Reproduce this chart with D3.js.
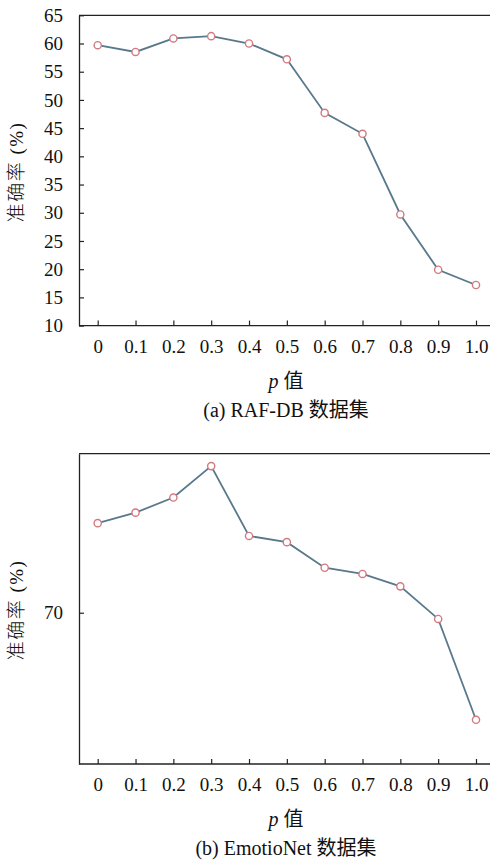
<!DOCTYPE html>
<html lang="zh">
<head>
<meta charset="UTF-8">
<title>p 值 准确率</title>
<script src="https://cdn.jsdelivr.net/npm/d3@7/dist/d3.min.js"></script>
<style>
  body { margin: 0; background: #fff; }
  text { font-family: "Liberation Serif", "Noto Sans CJK SC", serif; fill: #111; }
</style>
</head>
<body>
<div id="chart"></div>
<script>
// p values on the x axis
var pValues = [0, 0.1, 0.2, 0.3, 0.4, 0.5, 0.6, 0.7, 0.8, 0.9, 1.0];
var pLabels = ['0', '0.1', '0.2', '0.3', '0.4', '0.5', '0.6', '0.7', '0.8', '0.9', '1.0'];

// accuracy (%) on RAF-DB
var rafAcc = [59.7, 58.5, 60.9, 61.3, 60.0, 57.2, 47.7, 44.0, 29.7, 19.9, 17.2];
var rafTicks = [10, 15, 20, 25, 30, 35, 40, 45, 50, 55, 60, 65];

// accuracy (%) on EmotioNet
var emoAcc = [72.31, 72.58, 72.97, 73.78, 71.98, 71.82, 71.16, 71.0, 70.68, 69.84, 67.24];
var emoTicks = [70];

var width = 490, height = 866;
var svg = d3.select('#chart').append('svg')
    .attr('width', width)
    .attr('height', height);

function panel(opt) {
    var g = svg.append('g');
    var left = 79, right = 492;

    var x = d3.scaleLinear().domain([0, 1]).range([97.7, 476]);
    var y = d3.scaleLinear().domain(opt.domain).range([opt.bottom, opt.top]);

    // frame: top + left + bottom
    g.append('line').attr('x1', left).attr('x2', right)
        .attr('y1', opt.top).attr('y2', opt.top)
        .attr('stroke', '#222').attr('stroke-width', 1.3);

    var xAxis = d3.axisBottom(x).tickValues(pValues)
        .tickFormat(function(d, i) { return pLabels[i]; })
        .tickSizeInner(-5).tickSizeOuter(0).tickPadding(14);
    var xg = g.append('g').attr('transform', 'translate(0,' + opt.bottom + ')').call(xAxis);
    xg.select('.domain').attr('d', 'M' + left + ',0H' + right);

    var yAxis = d3.axisLeft(y).tickValues(opt.ticks)
        .tickSizeInner(-5).tickSizeOuter(0).tickPadding(16);
    var yg = g.append('g').attr('transform', 'translate(' + left + ',0)').call(yAxis);

    [xg, yg].forEach(function(a) {
        a.attr('font-size', null).attr('font-family', null);
        a.selectAll('.domain').attr('stroke', '#222').attr('stroke-width', 1.3);
        a.selectAll('.tick line').attr('stroke', '#222').attr('stroke-width', 1.2);
        a.selectAll('.tick text')
            .style('font-family', '"Liberation Serif", serif')
            .style('font-size', '19px').attr('fill', '#111');
    });

    var pts = pValues.map(function(p, i) { return [p, opt.values[i]]; });
    var line = d3.line().x(function(d) { return x(d[0]); }).y(function(d) { return y(d[1]); });

    g.append('path').datum(pts)
        .attr('d', line)
        .attr('fill', 'none')
        .attr('stroke', '#58788c')
        .attr('stroke-width', 1.8);

    g.selectAll('.dot').data(pts).enter().append('circle')
        .attr('class', 'dot')
        .attr('cx', function(d) { return x(d[0]); })
        .attr('cy', function(d) { return y(d[1]); })
        .attr('r', 3.6)
        .attr('fill', '#fff')
        .attr('stroke', '#d27a80')
        .attr('stroke-width', 1.4);

    // y label
    g.append('text')
        .attr('transform', 'translate(23,' + opt.ylabelY + ') rotate(-90)')
        .attr('text-anchor', 'middle')
        .style('font-size', '19px')
        .style('font-weight', '300')
        .style('letter-spacing', '1.5px')
        .text('准确率 (%)');

    // x label
    var xl = g.append('text')
        .attr('x', 286).attr('y', opt.bottom + 62)
        .attr('text-anchor', 'middle')
        .style('font-size', '20px');
    xl.append('tspan').style('font-style', 'italic').text('p');
    xl.append('tspan').text(' 值');

    g.append('text')
        .attr('x', 286).attr('y', opt.bottom + 91)
        .attr('text-anchor', 'middle')
        .style('font-size', '20px')
        .text(opt.caption);
}

panel({
    top: 15.3, bottom: 325.6, domain: [10, 65], ticks: rafTicks,
    values: rafAcc, ylabelY: 172, caption: '(a) RAF-DB 数据集'
});

panel({
    top: 453.7, bottom: 764, domain: [66.1, 74.1], ticks: emoTicks,
    values: emoAcc, ylabelY: 610, caption: '(b) EmotioNet 数据集'
});
</script>
</body>
</html>
